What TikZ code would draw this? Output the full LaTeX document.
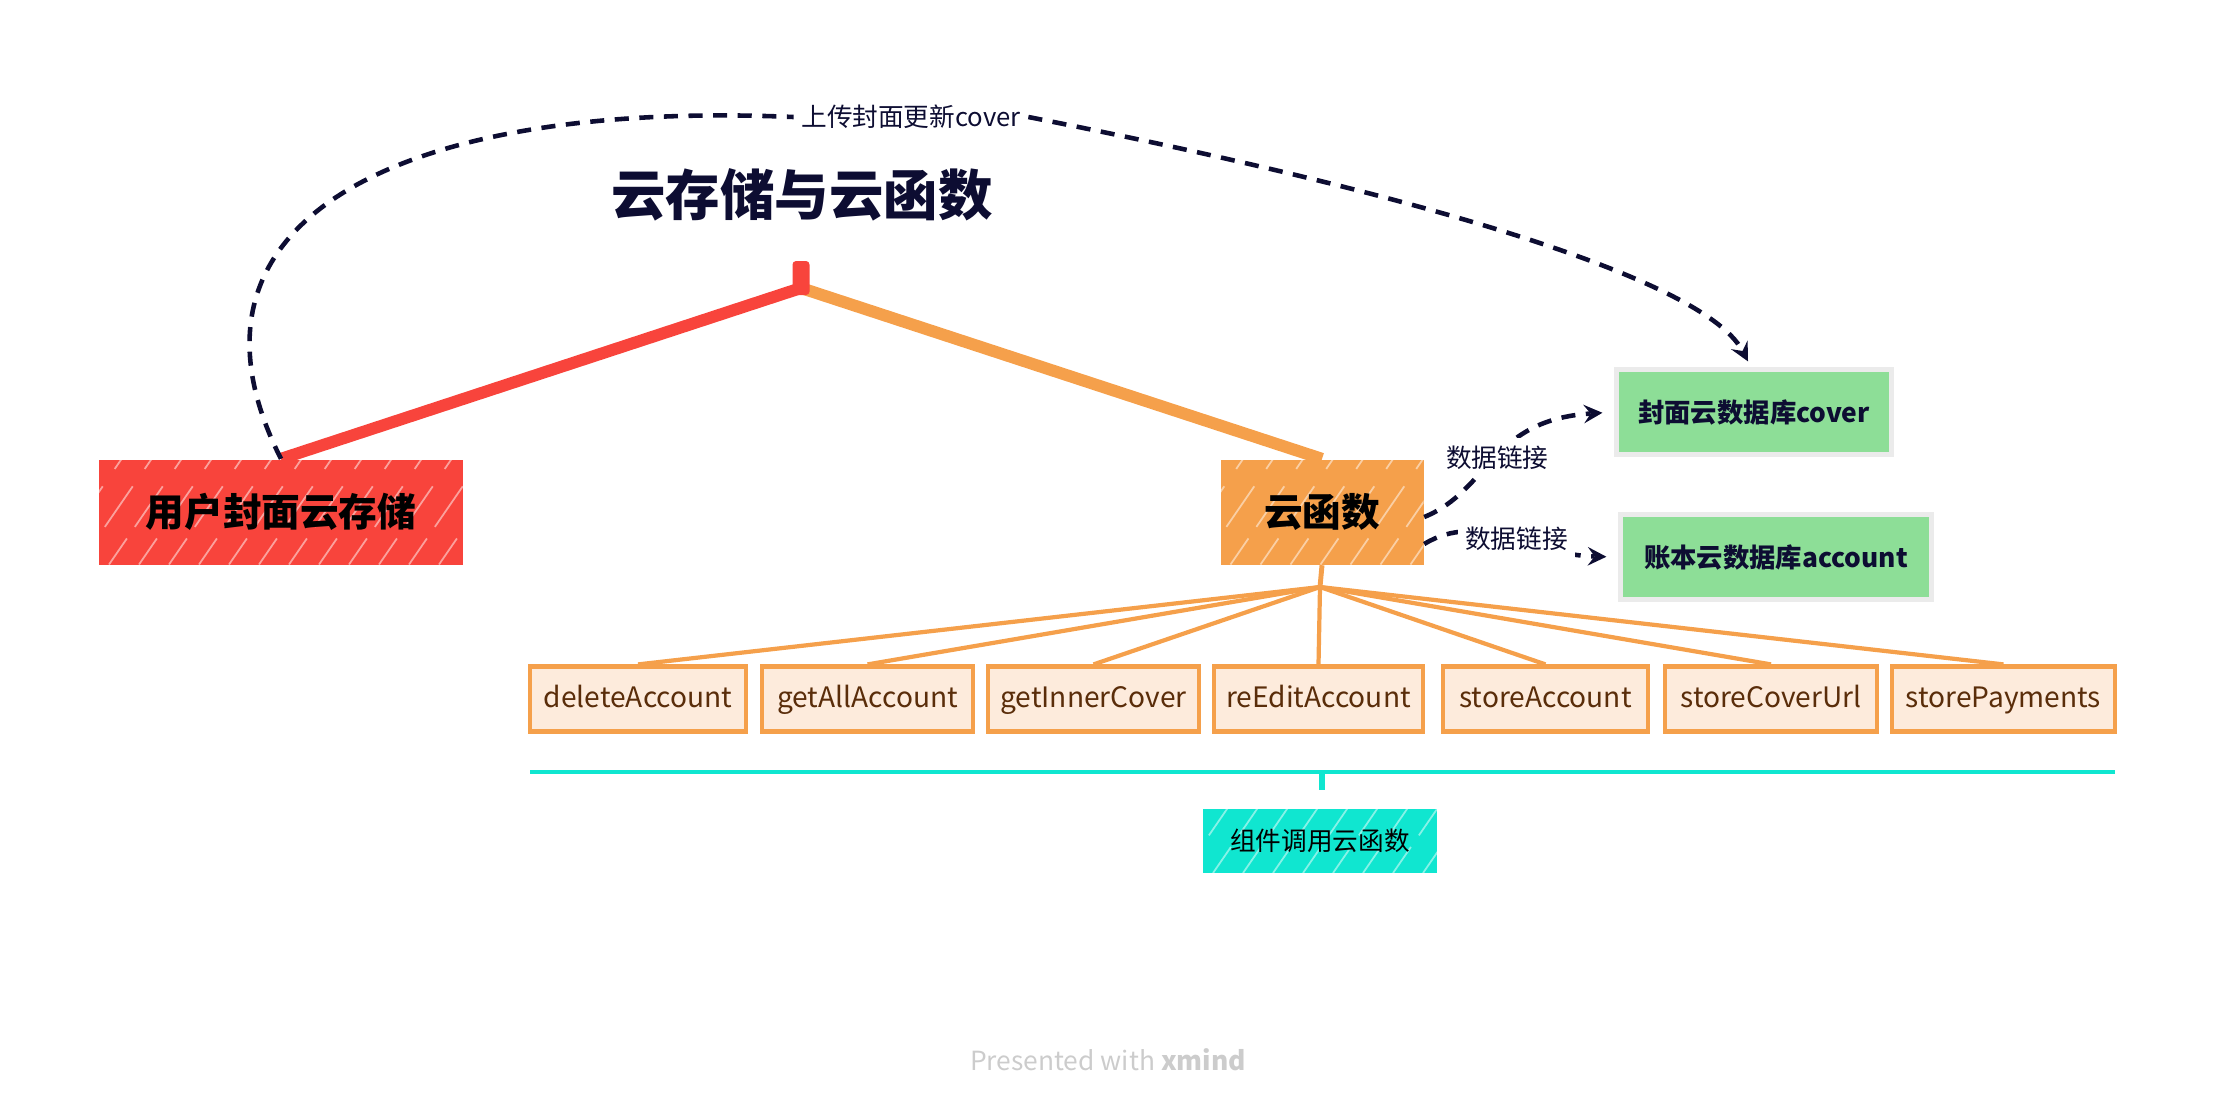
\documentclass[tikz,border=0pt]{standalone}
\usepackage{fontspec}
\setmainfont{Noto Sans CJK SC}
\definecolor{navy}{RGB}{13,13,50}
\definecolor{redc}{RGB}{248,68,60}
\definecolor{orangec}{RGB}{245,160,75}
\definecolor{peach}{RGB}{253,235,220}
\definecolor{brownc}{RGB}{90,45,10}
\definecolor{greenc}{RGB}{141,222,151}
\definecolor{cyanc}{RGB}{16,230,208}

\begin{document}
\begin{tikzpicture}[>=stealth,
  hatch/.style={path picture={\foreach \i in {0,3,...,60}
    \draw[white,opacity=0.5,line width=0.5pt,dash pattern=on 9pt off 4pt on 14pt off 6pt]
      ([xshift=\i mm-2cm]path picture bounding box.south west) -- ++(1.1,1.6);}},
  mainbox/.style={hatch,minimum height=1.05cm,inner sep=0pt,font=\fontsize{11}{13}\selectfont\bfseries},
  leaf/.style={draw=orangec,line width=1.2pt,fill=peach,minimum height=0.65cm,inner sep=0pt,text height=7pt,text depth=2pt,text=brownc,font=\fontsize{8}{10}\selectfont},
  dbbox/.style={draw=black!8,line width=1.2pt,fill=greenc,minimum height=0.85cm,inner sep=0pt,text=navy,font=\fontsize{7.5}{9}\selectfont\bfseries},
  lbl/.style={text=navy,inner sep=2pt,font=\fontsize{7.3}{9}\selectfont},
  link/.style={navy,line width=1.3pt,dash pattern=on 4pt off 3pt}]
\useasboundingbox (0,0) rectangle (22.14,-11.10);

\node[text=navy,font=\fontsize{15.5}{18}\selectfont\bfseries] (title) at (8.02,-1.95) {云存储与云函数};

\node[mainbox,fill=redc,minimum width=3.64cm] (storage) at (2.81,-5.12) {用户封面云存储};
\node[mainbox,fill=orangec,minimum width=2.03cm] (func) at (13.22,-5.12) {云函数};
\node[dbbox,minimum width=2.75cm] (cover) at (17.54,-4.12) {封面云数据库cover};
\node[dbbox,minimum width=3.11cm] (account) at (17.76,-5.57) {账本云数据库account};

% main branches
\coordinate (root) at (8.01,-2.88);
\draw[orangec,line width=3.4pt] (root) -- (func.north);
\draw[redc,line width=3.4pt] (root) -- (storage.north);
\node[fill=redc,minimum width=0.17cm,minimum height=0.34cm,inner sep=0pt,rounded corners=1pt] (blob) at (8.01,-2.78) {};

% cloud functions
\coordinate (fan) at (13.20,-5.87);
\draw[orangec,line width=1.4pt] (func.south) -- (fan);
\foreach \name/\x/\w in {deleteAccount/6.38/2.16,getAllAccount/8.675/2.11,getInnerCover/10.935/2.11,
  reEditAccount/13.185/2.09,storeAccount/15.455/2.05,storeCoverUrl/17.71/2.12,storePayments/20.035/2.23}
{
  \node[leaf,minimum width=\w cm] (\name) at (\x,-6.99) {\name};
  \draw[orangec,line width=1.2pt] (fan) -- (\name.north);
}

\coordinate (bl) at (5.30,-7.72);
\coordinate (br) at (21.15,-7.72);
\draw[cyanc,line width=1.3pt] (bl) -- (br);
\draw[cyanc,line width=1.6pt] (13.22,-7.72) -- ++(0,-0.18);
\node[hatch,fill=cyanc,minimum width=2.34cm,minimum height=0.64cm,inner sep=0pt,font=\fontsize{7.3}{9}\selectfont] (call) at (13.20,-8.41) {组件调用云函数};

% data links
\node[lbl] (upl) at (9.11,-1.17) {上传封面更新cover};
\draw[link] (storage.north) .. controls (1.6,-2.2) and (4.0,-1.0) .. (upl.west);
\draw[link,->] (upl.east) .. controls (13.5,-1.8) and (17.0,-2.7) .. ([xshift=-0.6mm,yshift=0.6mm]cover.north);
\draw[link,->,shorten >=1.2mm] ([yshift=-0.5mm]func.east) .. controls (14.9,-4.9) and (14.9,-4.2) .. (cover.west)
  node[lbl,pos=0.5,fill=white] (lk1) {数据链接};
\draw[link,->,shorten >=1.2mm] ([yshift=-3.2mm]func.east) .. controls (14.8,-5.1) and (15.3,-5.55) .. (account.west)
  node[lbl,pos=0.54,fill=white] (lk2) {数据链接};

\node[text=black!20,font=\fontsize{7.5}{9}\selectfont] (credit) at (11.08,-10.60) {Presented with \textbf{xmind}};
\end{tikzpicture}
\end{document}
